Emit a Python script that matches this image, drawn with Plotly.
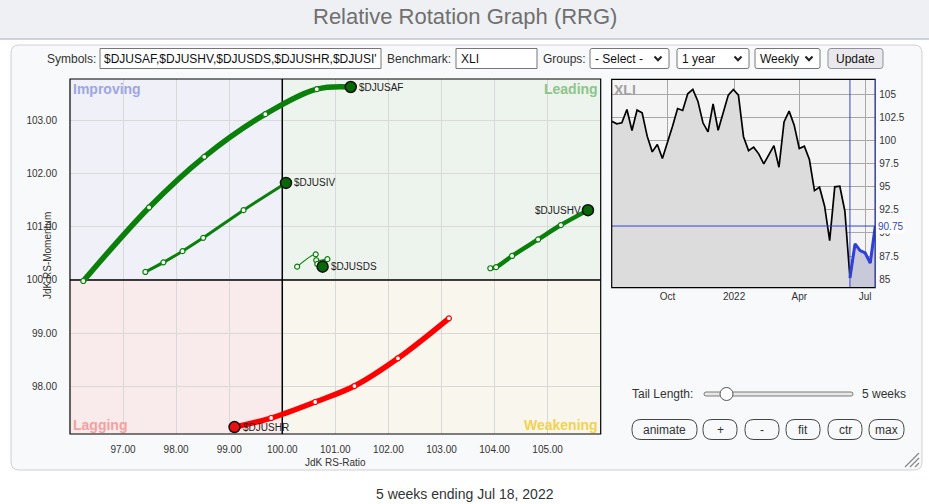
import plotly.graph_objects as go
import pandas as pd

# ---------------- data ----------------
symbols = ["$DJUSAF", "$DJUSIV", "$DJUSDS", "$DJUSHV", "$DJUSHR"]
djusaf_ratio = [96.25, 97.49, 98.53, 99.68, 100.65, 101.29]
djusaf_mom = [99.98, 101.36, 102.31, 103.11, 103.58, 103.62]
djusiv_ratio = [97.42, 97.76, 98.12, 98.51, 99.27, 100.07]
djusiv_mom = [100.15, 100.33, 100.54, 100.79, 101.31, 101.82]
djusds_ratio = [100.28, 100.63, 100.64, 100.85, 100.66, 100.76]
djusds_mom = [100.25, 100.48, 100.37, 100.39, 100.30, 100.25]
djushv_ratio = [103.92, 104.03, 104.33, 104.82, 105.25, 105.76]
djushv_mom = [100.22, 100.24, 100.45, 100.76, 101.03, 101.31]
djushr_ratio = [103.14, 102.18, 101.36, 100.62, 99.79, 99.10]
djushr_mom = [99.28, 98.53, 98.01, 97.71, 97.41, 97.24]

ratio_ticks = [97, 98, 99, 100, 101, 102, 103, 104, 105]
mom_ticks = [98, 99, 100, 101, 102, 103]

xli_dates = pd.date_range("2021-07-16", periods=53, freq="7D")
xli_close = [102.08, 101.8, 101.9, 103.34, 101.07, 103.27, 102.98, 100.46, 98.76, 99.55,
             98.04, 99.73, 101.54, 103.44, 103.23, 105.03, 105.5, 104.24, 101.9, 100.92,
             103.95, 101.1, 102.87, 104.89, 105.5, 104.89, 100.4, 98.9, 99.27, 98.55,
             97.46, 98.4, 99.44, 97.1, 102.0, 103.16, 101.65, 99.12, 99.38, 97.93,
             94.58, 94.95, 92.89, 89.17, 94.98, 95.05, 92.35, 85.14, 88.82, 88.1,
             87.84, 86.76, 90.75]
tail_start = 47
xli_ticks = [85, 87.5, 90, 92.5, 95, 97.5, 100, 102.5, 105]
xli_date_ticks = ["2021-10-01", "2022-01-01", "2022-04-01", "2022-07-01"]
xli_date_labels = ["Oct", "2022", "Apr", "Jul"]

# ---------------- helpers ----------------
W, H = 929, 504
FONT = "Liberation Sans, Arial, sans-serif"


def px(x):
    return x / W


def py(y):
    return 1 - y / H


def rrect(x0, y0, x1, y1, r):
    pts = [
        f"M {px(x0 + r)},{py(y0)}",
        f"L {px(x1 - r)},{py(y0)}",
        f"Q {px(x1)},{py(y0)} {px(x1)},{py(y0 + r)}",
        f"L {px(x1)},{py(y1 - r)}",
        f"Q {px(x1)},{py(y1)} {px(x1 - r)},{py(y1)}",
        f"L {px(x0 + r)},{py(y1)}",
        f"Q {px(x0)},{py(y1)} {px(x0)},{py(y1 - r)}",
        f"L {px(x0)},{py(y0 + r)}",
        f"Q {px(x0)},{py(y0)} {px(x0 + r)},{py(y0)}",
        "Z",
    ]
    return " ".join(pts)


shapes = []
annos = []


def text(x, y, s, size=12, color="#333", anchor="left", bold=False, bg=None):
    t = f"<b>{s}</b>" if bold else s
    d = dict(x=px(x), y=py(y), xref="paper", yref="paper", text=t, showarrow=False,
             xanchor=anchor, yanchor="middle",
             font=dict(size=size, color=color, family=FONT), borderpad=0)
    if bg:
        d["bgcolor"] = bg
    annos.append(d)


def box(x0, y0, x1, y1, r=0, fill="white", line="#767676", lw=1, layer="below"):
    if r > 0:
        shapes.append(dict(type="path", path=rrect(x0, y0, x1, y1, r), xref="paper", yref="paper",
                           fillcolor=fill, line=dict(color=line, width=lw), layer=layer))
    else:
        shapes.append(dict(type="rect", x0=px(x0), x1=px(x1), y0=py(y0), y1=py(y1), xref="paper",
                           yref="paper", fillcolor=fill, line=dict(color=line, width=lw), layer=layer))


def chevron(cx, cy):
    shapes.append(dict(type="path", xref="paper", yref="paper",
                       path=f"M {px(cx - 3.5)},{py(cy - 2)} L {px(cx)},{py(cy + 1.8)} L {px(cx + 3.5)},{py(cy - 2)}",
                       line=dict(color="#222", width=2), layer="below"))


fig = go.Figure()

# ---------------- page chrome ----------------
box(0, 0, 929, 38, fill="#eef0f3", line="rgba(0,0,0,0)", lw=0)
shapes.append(dict(type="line", xref="paper", yref="paper", x0=0, x1=1, y0=py(39), y1=py(39),
                   line=dict(color="#cdd2d8", width=2), layer="below"))
text(464.5, 16, "Relative Rotation Graph (RRG)", size=22, color="#707070", anchor="center")
box(11, 45, 922, 470, r=8, fill="#f8f9fa", line="#cfcfcf", lw=1)

# controls row
text(97, 58.5, "Symbols:", anchor="right")
box(100, 48.5, 381, 68.5, fill="white", line="#767676")
text(103, 58.5, "$DJUSAF,$DJUSHV,$DJUSDS,$DJUSHR,$DJUSI'", color="#111")
text(452, 58.5, "Benchmark:", anchor="right")
box(456, 48.5, 537, 68.5, fill="white", line="#767676")
text(460, 58.5, "XLI", color="#111")
text(587, 58.5, "Groups:", anchor="right")
box(590, 48.5, 669, 68.5, r=2, fill="white", line="#767676")
text(594, 58.5, "- Select -", color="#111")
chevron(658, 58.5)
box(677, 48.5, 749, 68.5, r=2, fill="white", line="#767676")
text(681, 58.5, "1 year", color="#111")
chevron(738, 58.5)
box(755, 48.5, 820, 68.5, r=2, fill="white", line="#767676")
text(759, 58.5, "Weekly", color="#111")
chevron(809, 58.5)
box(828, 48.5, 883, 68.5, r=3, fill="#e9e9ed", line="#8f8f9d")
text(855.5, 58.5, "Update", color="#111", anchor="center")

# tail length slider + buttons
text(631, 394, "Tail Length:", size=12)
box(704, 392, 853, 396, r=2, fill="#e8e8e8", line="#7a7a7a")
shapes.append(dict(type="circle", xref="paper", yref="paper", x0=px(720), x1=px(733), y0=py(387.5),
                   y1=py(400.5), fillcolor="white", line=dict(color="#555", width=1), layer="below"))
text(861, 394, "5 weeks", size=12)
for lbl, x0, x1 in [("animate", 632, 697), ("+", 703, 737), ("-", 745, 779),
                    ("fit", 786, 820), ("ctr", 828, 862), ("max", 869, 904)]:
    box(x0, 419.5, x1, 439.5, r=9, fill="rgba(0,0,0,0)", line="#444")
    text((x0 + x1) / 2, 429.5, lbl, size=12, anchor="center")
for k in (4, 9, 14):
    shapes.append(dict(type="line", xref="paper", yref="paper",
                       x0=px(919 - k), y0=py(467), x1=px(919), y1=py(467 - k),
                       line=dict(color="#888", width=1.2), layer="below"))

text(464.5, 494, "5 weeks ending Jul 18, 2022", size=14, color="#333", anchor="center")

# ---------------- RRG main chart ----------------
XR = [96, 106]
YR = [97.11, 103.77]
quad = [
    (XR[0], 100, 100, YR[1], "#eff0f8"),
    (100, XR[1], 100, YR[1], "#edf4ee"),
    (XR[0], 100, YR[0], 100, "#f9ebeb"),
    (100, XR[1], YR[0], 100, "#f9f6ee"),
]
for x0, x1, y0, y1, c in quad:
    shapes.append(dict(type="rect", xref="x", yref="y", x0=x0, x1=x1, y0=y0, y1=y1,
                       fillcolor=c, line=dict(width=0), layer="below"))
fig.add_trace(go.Scatter(x=[100, 100], y=YR, mode="lines", xaxis="x", yaxis="y",
                         line=dict(color="black", width=1.5), hoverinfo="skip", showlegend=False))
fig.add_trace(go.Scatter(x=XR, y=[100, 100], mode="lines", xaxis="x", yaxis="y",
                         line=dict(color="black", width=1.5), hoverinfo="skip", showlegend=False))
shapes.append(dict(type="rect", xref="x domain", yref="y domain", x0=0, x1=1, y0=0, y1=1,
                   line=dict(color="black", width=1.2), fillcolor="rgba(0,0,0,0)", layer="above"))

green = "#0a800a"
series = [
    ("$DJUSAF", djusaf_ratio, djusaf_mom, green, 5.5, "#086808", "left"),
    ("$DJUSIV", djusiv_ratio, djusiv_mom, green, 3, "#086808", "left"),
    ("$DJUSDS", djusds_ratio, djusds_mom, green, 1.2, "#086808", "left"),
    ("$DJUSHV", djushv_ratio, djushv_mom, green, 4.5, "#086808", "right"),
    ("$DJUSHR", djushr_ratio, djushr_mom, "#ff0000", 5.5, "#e81010", "left"),
]
for name, xs, ys, col, lw, endc, side in series:
    n = len(xs)
    fig.add_trace(go.Scatter(
        x=xs, y=ys, mode="lines+markers", xaxis="x", yaxis="y",
        line=dict(color=col, width=lw, shape="spline", smoothing=1.0),
        marker=dict(size=[5] * (n - 1) + [11], color=["white"] * (n - 1) + [endc], opacity=1,
                    line=dict(color=[col] * (n - 1) + ["#111"], width=[1.2] * (n - 1) + [1.5])),
        hoverinfo="skip", showlegend=False, cliponaxis=False))
    annos.append(dict(x=xs[-1], y=ys[-1], xref="x", yref="y", text=name, showarrow=False,
                      xanchor=side, yanchor="middle", xshift=(6 if side == "left" else -5),
                      font=dict(size=10, color="#222", family=FONT)))

# quadrant labels
text(72, 89, "Improving", size=14, color="#9ea6e2", bold=True)
text(599, 89, "Leading", size=14, color="#8cc48c", bold=True, anchor="right")
text(72, 425, "Lagging", size=14, color="#f4a0a0", bold=True)
text(599, 425, "Weakening", size=14, color="#f2d24e", bold=True, anchor="right")

text(335, 462, "JdK RS-Ratio", size=10, color="#333", anchor="center")
annos.append(dict(x=px(47), y=py(256), xref="paper", yref="paper", text="JdK RS-Momentum",
                  showarrow=False, textangle=-90, xanchor="center", yanchor="middle",
                  font=dict(size=10, color="#333", family=FONT)))

# ---------------- XLI mini chart ----------------
shapes.append(dict(type="rect", xref="x2 domain", yref="y2 domain", x0=0, x1=1, y0=0, y1=1,
                   fillcolor="#f4f4f4", line=dict(width=0), layer="below"))
fig.add_trace(go.Scatter(x=xli_dates, y=xli_close, mode="lines", xaxis="x2", yaxis="y2",
                         line=dict(color="black", width=1.7), fill="tozeroy", fillcolor="#dcdcdc",
                         hoverinfo="skip", showlegend=False))
fig.add_trace(go.Scatter(x=xli_dates[tail_start:], y=xli_close[tail_start:], mode="lines",
                         xaxis="x2", yaxis="y2", line=dict(color="#3040d8", width=3),
                         fill="tozeroy", fillcolor="rgba(100,110,210,0.16)",
                         hoverinfo="skip", showlegend=False))
shapes.append(dict(type="line", xref="x2", yref="y2 domain", x0=xli_dates[tail_start],
                   x1=xli_dates[tail_start], y0=0, y1=1, line=dict(color="#3344cc", width=1), layer="above"))
shapes.append(dict(type="line", xref="x2 domain", yref="y2", x0=0, x1=1, y0=xli_close[-1],
                   y1=xli_close[-1], line=dict(color="#3344cc", width=1), layer="above"))
shapes.append(dict(type="rect", xref="x2 domain", yref="y2 domain", x0=0, x1=1, y0=0, y1=1,
                   line=dict(color="black", width=1.2), fillcolor="rgba(0,0,0,0)", layer="above"))
shapes.append(dict(type="line", xref="x2 domain", yref="y2 domain", x0=1, x1=1, y0=0, y1=1,
                   line=dict(color="#4455bb", width=1.2), layer="above"))
text(613, 90, "XLI", size=14, color="#a0a0a0", bold=True)
annos.append(dict(x=1, y=xli_close[-1], xref="x2 domain", yref="y2", text=f"{xli_close[-1]:.2f}",
                  showarrow=False, xanchor="left", yanchor="middle", xshift=1, bgcolor="white",
                  borderpad=1, font=dict(size=10, color="#3344cc", family=FONT)))

fig.update_layout(
    width=W, height=H, margin=dict(l=0, r=0, t=0, b=0),
    paper_bgcolor="white", plot_bgcolor="rgba(0,0,0,0)",
    font=dict(family=FONT, color="#333", size=10),
    shapes=shapes, annotations=annos, showlegend=False,
    xaxis=dict(domain=[px(70), px(600.7)], range=XR, anchor="y",
               tickvals=ratio_ticks, ticktext=[f"{v:.2f}" for v in ratio_ticks],
               showgrid=True, gridcolor="#d9d9d9", gridwidth=1, zeroline=False, showline=False,
               ticks="", ticklabelstandoff=8, tickfont=dict(size=10, color="#333")),
    yaxis=dict(domain=[py(434), py(79)], range=YR, anchor="x",
               tickvals=mom_ticks, ticktext=[f"{v:.2f}" for v in mom_ticks],
               showgrid=True, gridcolor="#d9d9d9", gridwidth=1, zeroline=False, showline=False,
               ticks="", ticklabelstandoff=12, tickfont=dict(size=10, color="#333")),
    xaxis2=dict(domain=[px(611.7), px(875.3)], range=["2021-07-16", "2022-07-15"], anchor="y2",
                type="date", tickvals=xli_date_ticks, ticktext=xli_date_labels,
                showgrid=True, gridcolor="#a8a8a8", zeroline=False, showline=False,
                ticks="", ticklabelstandoff=1, tickfont=dict(size=10, color="#333")),
    yaxis2=dict(domain=[py(287.7), py(79.3)], range=[84.09, 106.6], anchor="x2", side="right",
                tickvals=xli_ticks, ticktext=[f"{v:g}" for v in xli_ticks],
                showgrid=True, gridcolor="#a8a8a8", zeroline=False, showline=False,
                ticks="", ticklabelstandoff=3, tickfont=dict(size=10, color="#333")),
)

fig.write_html("out.html", post_script="document.body.style.margin='0px';",
               config={"displayModeBar": False})
